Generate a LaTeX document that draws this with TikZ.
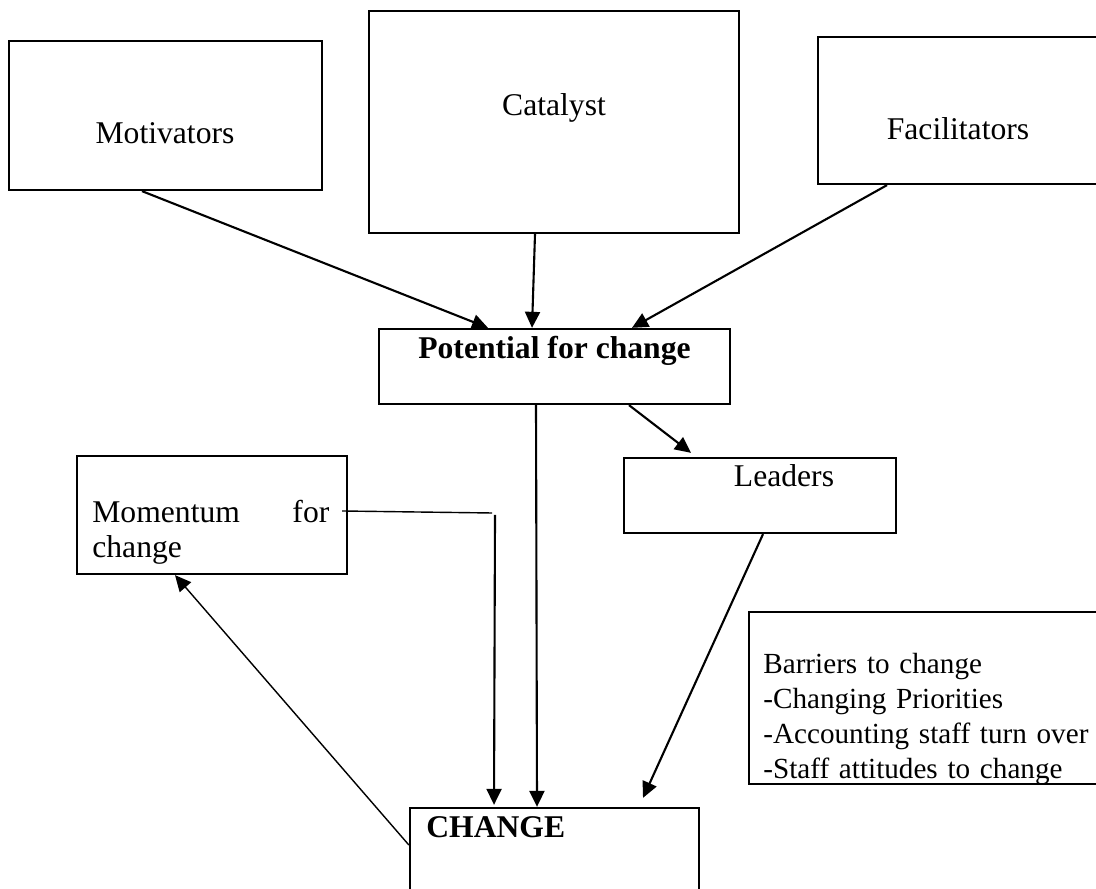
\documentclass[tikz,border=0pt]{standalone}
\usepackage{fontspec}
\setmainfont{Liberation Serif}
\usetikzlibrary{arrows.meta,positioning}

\begin{document}
\begin{tikzpicture}[x=1cm,y=1cm,
  box/.style={draw,line width=1.3pt,inner sep=0pt},
  lbl/.style={inner sep=0pt,font=\fontsize{18}{19.9}\selectfont},
  arr/.style={line width=1.2pt,-{Triangle[length=0.32cm,width=0.30cm]}},
  thinline/.style={line width=0.8pt}]
\useasboundingbox (0,0) rectangle (21.92,17.76);

% Top row of boxes
\node[box,minimum width=6.26cm,minimum height=2.98cm] (mot) at (3.31,15.45) {};
\node[lbl,anchor=base] (mot-t) at (3.30,14.88) {Motivators};
\node[box,minimum width=7.40cm,minimum height=4.44cm] (cat) at (11.08,15.32) {};
\node[lbl,anchor=base] (cat-t) at (11.08,15.44) {Catalyst};
\node[box,minimum width=5.60cm,minimum height=2.94cm] (fac) at (19.16,15.55) {};
\node[lbl,anchor=base] (fac-t) at (19.16,14.96) {Facilitators};

% Potential and leaders
\node[box,minimum width=7.02cm,minimum height=1.50cm] (pot) at (11.09,10.43) {};
\node[lbl,anchor=base] (pot-t) at (11.09,10.58) {\bfseries Potential for change};
\node[box,minimum width=5.44cm,minimum height=1.50cm] (lea) at (15.20,7.85) {};
\node[lbl,anchor=base] (lea-t) at (15.68,8.02) {Leaders};

% Momentum
\node[box,minimum width=5.40cm,minimum height=2.36cm] (mom) at (4.24,7.46) {};
\node[lbl,anchor=base west,text width=4.74cm,align=left] (mom-t) at (1.84,7.30)
  {Momentum\hfill for\\change};

% Barriers and change
\node[box,minimum width=6.98cm,minimum height=3.44cm] (bar) at (18.47,3.80) {};
\node[lbl,anchor=base west,text width=7.4cm,align=left,
  font=\fontsize{16.6}{19.9}\selectfont] (bar-t) at (15.26,4.28)
  {Barriers to change\\-Changing Priorities\\-Accounting staff turn over\\-Staff attitudes to change};
\node[box,minimum width=5.78cm,minimum height=1.84cm] (chg) at (11.09,0.68) {};
\node[lbl,anchor=base west] (chg-t) at (8.52,1.00) {\bfseries CHANGE};

% Arrows into potential for change
\draw[arr] ([xshift=-0.47cm]mot.south) -- ([xshift=-1.33cm]pot.north);
\draw[arr] ([xshift=-0.38cm]cat.south) -- ([xshift=-0.45cm]pot.north);
\draw[arr] ([xshift=-1.42cm]fac.south) -- ([xshift=1.55cm]pot.north);

% Arrows down to change
\draw[arr] ([xshift=-0.37cm]pot.south) -- ([xshift=-0.35cm]chg.north);
\draw[arr] ([xshift=1.49cm]pot.south) -- ([shift={(-1.38cm,0.08cm)}]lea.north);
\draw[arr] ([xshift=0.06cm]lea.south) -- ([shift={(1.77cm,0.18cm)}]chg.north);

% Momentum feedback
\coordinate (mbend) at (9.84,7.50);
\coordinate (mdrop) at (9.90,7.46);
\draw[thinline] ([shift={(-0.12cm,0.08cm)}]mom.east) -- (mbend);
\draw[arr] (mdrop) -- ([shift={(-1.21cm,0.04cm)}]chg.north);
\draw[arr,thinline] ([yshift=0.18cm]chg.west) -- ([xshift=-0.74cm]mom.south);
\end{tikzpicture}
\end{document}
